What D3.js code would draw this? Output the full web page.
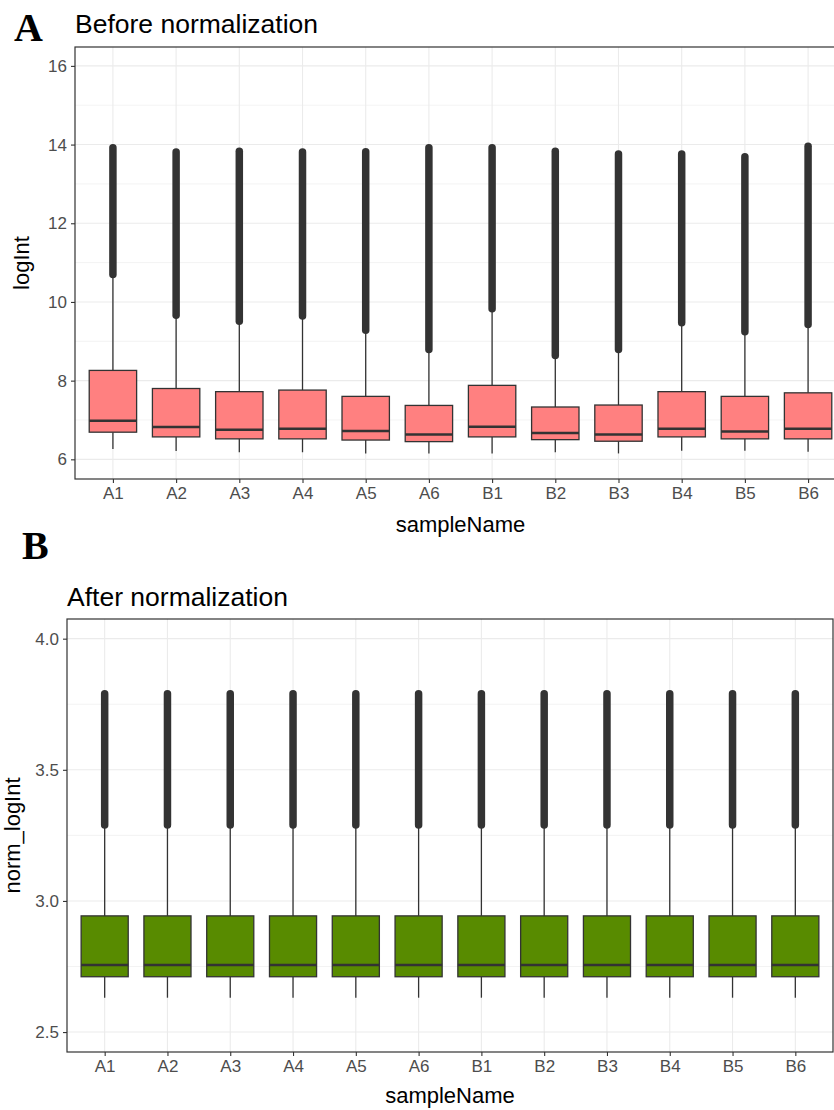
<!DOCTYPE html>
<html><head><meta charset="utf-8">
<script src="https://cdn.jsdelivr.net/npm/d3@7"></script>
<style>body{margin:0;background:#fff}svg{display:block}text{font-family:Arial,"Liberation Sans",sans-serif}</style>
</head><body>
<script>
const samples = ["A1","A2","A3","A4","A5","A6","B1","B2","B3","B4","B5","B6"];

// Panel A: Before normalization (logInt)
const beforeWhiskerLow = [6.26,6.21,6.18,6.18,6.15,6.15,6.15,6.18,6.15,6.22,6.22,6.19];
const beforeQ1        = [6.69,6.57,6.52,6.52,6.49,6.45,6.57,6.50,6.46,6.57,6.52,6.52];
const beforeMedian    = [6.98,6.82,6.75,6.78,6.72,6.63,6.83,6.67,6.63,6.78,6.71,6.78];
const beforeQ3        = [8.26,7.80,7.72,7.76,7.60,7.37,7.88,7.33,7.38,7.72,7.60,7.69];
const beforeOutLow    = [10.70,9.66,9.51,9.64,9.28,8.79,9.83,8.64,8.79,9.47,9.24,9.43];
const beforeOutHigh   = [13.92,13.81,13.83,13.81,13.82,13.92,13.92,13.83,13.76,13.76,13.69,13.96];
const beforeTicks = [6,8,10,12,14,16];
const beforeMinor = [7,9,11,13,15];

// Panel B: After normalization (norm_logInt)
const afterWhiskerLow = [2.631,2.631,2.631,2.631,2.631,2.631,2.631,2.631,2.631,2.631,2.631,2.631];
const afterQ1         = [2.711,2.711,2.711,2.711,2.711,2.711,2.711,2.711,2.711,2.711,2.711,2.711];
const afterMedian     = [2.756,2.756,2.756,2.756,2.756,2.756,2.756,2.756,2.756,2.756,2.756,2.756];
const afterQ3         = [2.943,2.943,2.943,2.943,2.943,2.943,2.943,2.943,2.943,2.943,2.943,2.943];
const afterOutLow     = [3.29,3.29,3.29,3.29,3.29,3.29,3.29,3.29,3.29,3.29,3.29,3.29];
const afterOutHigh    = [3.79,3.79,3.79,3.79,3.79,3.79,3.79,3.79,3.79,3.79,3.79,3.79];
const afterTicks = [2.5,3.0,3.5,4.0];
const afterMinor = [2.75,3.25,3.75];

const W = 834, H = 1110;
const svg = d3.select("body").append("svg").attr("width", W).attr("height", H);
svg.append("rect").attr("width", W).attr("height", H).attr("fill", "#fff");

function panel(cfg) {
  const x = d3.scalePoint().domain(samples).range([cfg.left, cfg.right]).padding(0.6);
  const y = d3.scaleLinear().domain(cfg.domain).range([cfg.bottom, cfg.top]);
  const step = x.step(), bw = step * 0.75;
  const g = svg.append("g");
  const clipId = "clip" + cfg.id;
  svg.append("clipPath").attr("id", clipId).append("rect")
    .attr("x", cfg.left).attr("y", cfg.top).attr("width", cfg.right - cfg.left).attr("height", cfg.bottom - cfg.top);
  const inner = g.append("g").attr("clip-path", `url(#${clipId})`);
  // grid
  inner.selectAll(".mn").data(cfg.minor).join("line")
    .attr("x1", cfg.left).attr("x2", cfg.right).attr("y1", d => y(d)).attr("y2", d => y(d))
    .attr("stroke", "#ebebeb").attr("stroke-width", 0.6);
  inner.selectAll(".mj").data(cfg.ticks).join("line")
    .attr("x1", cfg.left).attr("x2", cfg.right).attr("y1", d => y(d)).attr("y2", d => y(d))
    .attr("stroke", "#ebebeb").attr("stroke-width", 1.1);
  inner.selectAll(".vx").data(samples).join("line")
    .attr("x1", d => x(d)).attr("x2", d => x(d)).attr("y1", cfg.top).attr("y2", cfg.bottom)
    .attr("stroke", "#ebebeb").attr("stroke-width", 1.1);

  const data = samples.map((s, i) => ({s, lo: cfg.wl[i], q1: cfg.q1[i], med: cfg.med[i], q3: cfg.q3[i], ol: cfg.ol[i], oh: cfg.oh[i]}));
  const bx = inner.selectAll(".box").data(data).join("g");
  // whiskers
  bx.append("line").attr("x1", d => x(d.s)).attr("x2", d => x(d.s))
    .attr("y1", d => y(d.q3)).attr("y2", d => y(d.ol))
    .attr("stroke", "#333").attr("stroke-width", 1.3);
  bx.append("line").attr("x1", d => x(d.s)).attr("x2", d => x(d.s))
    .attr("y1", d => y(d.q1)).attr("y2", d => y(d.lo))
    .attr("stroke", "#333").attr("stroke-width", 1.3);
  // outliers (dense overlapping points)
  bx.append("line").attr("x1", d => x(d.s)).attr("x2", d => x(d.s))
    .attr("y1", d => y(d.ol)).attr("y2", d => y(d.oh))
    .attr("stroke", "#333").attr("stroke-width", 7.5).attr("stroke-linecap", "round");
  // box
  bx.append("rect").attr("x", d => x(d.s) - bw / 2).attr("width", bw)
    .attr("y", d => y(d.q3)).attr("height", d => y(d.q1) - y(d.q3))
    .attr("fill", cfg.fill).attr("stroke", "#333").attr("stroke-width", 1.3);
  bx.append("line").attr("x1", d => x(d.s) - bw / 2).attr("x2", d => x(d.s) + bw / 2)
    .attr("y1", d => y(d.med)).attr("y2", d => y(d.med))
    .attr("stroke", "#333").attr("stroke-width", 2.5);

  // border
  g.append("rect").attr("x", cfg.left).attr("y", cfg.top)
    .attr("width", cfg.right - cfg.left).attr("height", cfg.bottom - cfg.top)
    .attr("fill", "none").attr("stroke", "#333").attr("stroke-width", 1.2);

  // axes
  const ya = g.append("g").attr("transform", `translate(${cfg.left},0)`)
    .call(d3.axisLeft(y).tickValues(cfg.ticks).tickSize(4).tickPadding(4).tickFormat(cfg.fmt));
  ya.select(".domain").remove();
  ya.selectAll("line").attr("stroke", "#333").attr("stroke-width", 1.1);
  ya.selectAll("text").attr("fill", "#4d4d4d").style("font-size", "17px");
  const xa = g.append("g").attr("transform", `translate(0,${cfg.bottom})`)
    .call(d3.axisBottom(x).tickSize(4).tickPadding(4));
  xa.select(".domain").remove();
  xa.selectAll("line").attr("stroke", "#333").attr("stroke-width", 1.1);
  xa.selectAll("text").attr("fill", "#4d4d4d").style("font-size", "17px");

  // titles
  g.append("text").attr("x", cfg.left).attr("y", cfg.titleY).text(cfg.title)
    .style("font-size", "26.5px").attr("fill", "#000");
  g.append("text").attr("x", (cfg.left + cfg.right) / 2).attr("y", cfg.xlabY)
    .attr("text-anchor", "middle").text("sampleName").style("font-size", "22px").attr("fill", "#000");
  g.append("text").attr("transform", `translate(${cfg.ylabX},${(cfg.top + cfg.bottom) / 2}) rotate(-90)`)
    .attr("text-anchor", "middle").text(cfg.ylab).style("font-size", "22px").attr("fill", "#000");
  g.append("text").attr("x", cfg.tagX).attr("y", cfg.tagY).text(cfg.tag)
    .style("font-family", "'Liberation Serif','DejaVu Serif',serif").style("font-weight", "bold")
    .style("font-size", "40px").attr("fill", "#000");
}

panel({id: "A", left: 75, right: 846, top: 47, bottom: 479, domain: [5.5, 16.48],
  ticks: beforeTicks, minor: beforeMinor, fmt: d3.format("d"),
  wl: beforeWhiskerLow, q1: beforeQ1, med: beforeMedian, q3: beforeQ3, ol: beforeOutLow, oh: beforeOutHigh,
  fill: "#ff8080", title: "Before normalization", titleY: 33, xlabY: 532, ylab: "logInt", ylabX: 29,
  tag: "A", tagX: 14, tagY: 41});

panel({id: "B", left: 67, right: 833, top: 619, bottom: 1052, domain: [2.424, 4.075],
  ticks: afterTicks, minor: afterMinor, fmt: d3.format(".1f"),
  wl: afterWhiskerLow, q1: afterQ1, med: afterMedian, q3: afterQ3, ol: afterOutLow, oh: afterOutHigh,
  fill: "#588b00", title: "After normalization", titleY: 606, xlabY: 1103, ylab: "norm_logInt", ylabX: 20,
  tag: "B", tagX: 22, tagY: 559});
</script>
</body></html>
